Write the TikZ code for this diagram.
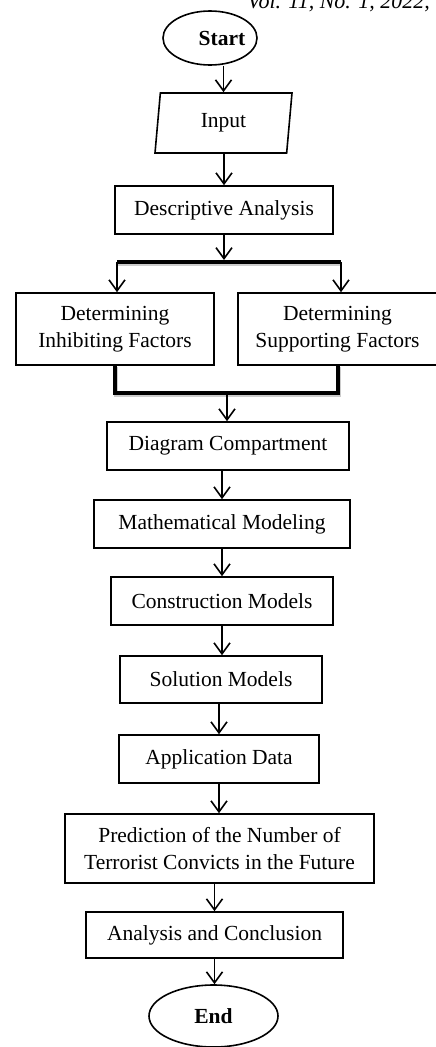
\documentclass[tikz,border=0pt]{standalone}
\usepackage{fontspec}
\setmainfont{Liberation Serif}
\usetikzlibrary{shapes.geometric,arrows.meta,calc}
\begin{document}
\begin{tikzpicture}[x=1pt,y=-1pt,
  box/.style={draw,line width=1.6pt,rectangle,align=center,inner sep=0pt,font=\fontsize{21.5}{27}\selectfont},
  term/.style={draw,line width=1.6pt,ellipse,inner sep=0pt,font=\fontsize{21.5}{26}\selectfont\bfseries},
  arr/.style={line width=1.6pt,-{Straight Barb[length=11pt,width=16pt,line width=1.6pt]}},
  bus/.style={line width=3.6pt},
  shade line/.style={line width=4pt,black!20,transform canvas={shift={(1.2pt,-1.5pt)}}}
]
\useasboundingbox (0,0) rectangle (436,1047);

\node[anchor=base east,inner sep=0pt,font=\fontsize{22}{24}\selectfont\itshape] (hdr) at (430,8) {Vol. 11, No. 1, 2022,};

\node[term,minimum width=94pt,minimum height=54pt] (start) at (210,38) {\makebox[0pt]{\hspace*{24pt}Start}};
\node[draw,line width=1.6pt,trapezium,trapezium left angle=74,trapezium right angle=106,trapezium stretches body,
      minimum width=137pt,minimum height=60pt,inner sep=0pt,font=\fontsize{21.5}{26}\selectfont] (input) at (223.5,123) {Input};
\node[box,minimum width=218pt,minimum height=48pt] (desc) at (224,210) {Descriptive Analysis};
\node[box,minimum width=198pt,minimum height=72pt] (inh) at (115,329) {Determining\\Inhibiting Factors};
\node[box,minimum width=199pt,minimum height=72pt] (sup) at (337.5,329) {Determining\\Supporting Factors};
\node[box,minimum width=242pt,minimum height=48pt] (diag) at (228,446) {Diagram Compartment};
\node[box,minimum width=256pt,minimum height=48pt] (math) at (222,524) {Mathematical Modeling};
\node[box,minimum width=222pt,minimum height=48pt] (constr) at (222,601) {Construction Models};
\node[box,minimum width=202pt,minimum height=47pt] (sol) at (221,679.5) {Solution Models};
\node[box,minimum width=200pt,minimum height=48pt] (app) at (219,759) {Application Data};
\node[box,minimum width=309pt,minimum height=69pt] (pred) at (219.5,848.5) {Prediction of the Number of\\Terrorist Convicts in the Future};
\node[box,minimum width=257pt,minimum height=46pt] (anal) at (214.5,935) {Analysis and Conclusion};
\node[term,minimum width=129pt,minimum height=62pt] (end) at (213.5,1016) {End};

% branch
\coordinate (bl) at (117,262);
\coordinate (br) at (341,262);
\coordinate (ml) at (115,393);
\coordinate (mr) at (338,393);
\coordinate (mm) at (227,393);

\draw[arr] (input.north |- start.south) -- (input.north);
\draw[arr] (input.south -| desc.north) -- (desc.north);
\draw[shade line] (bl) -- (br);
\draw[bus] (bl) -- (br);
\draw[arr] (desc.south) -- ($(desc.south |- bl)+(0,-2)$);
\draw[arr] (bl) -- (bl |- inh.north);
\draw[arr] (br) -- (br |- sup.north);

\draw[shade line] (inh.south) |- (mr) -- (mr |- sup.south);
\draw[bus] (inh.south) |- (mr) -- (mr |- sup.south);
\draw[arr] (mm) -- (mm |- diag.north);

\draw[arr] (math.north |- diag.south) -- (math.north);
\draw[arr] (math.south) -- (math.south |- constr.north);
\draw[arr] (constr.south) -- (constr.south |- sol.north);
\draw[arr] (app.north |- sol.south) -- (app.north);
\draw[arr] (app.south) -- (app.south |- pred.north);
\draw[arr] (anal.north |- pred.south) -- (anal.north);
\draw[arr] (anal.south) -- (anal.south |- end.north);
\end{tikzpicture}
\end{document}
